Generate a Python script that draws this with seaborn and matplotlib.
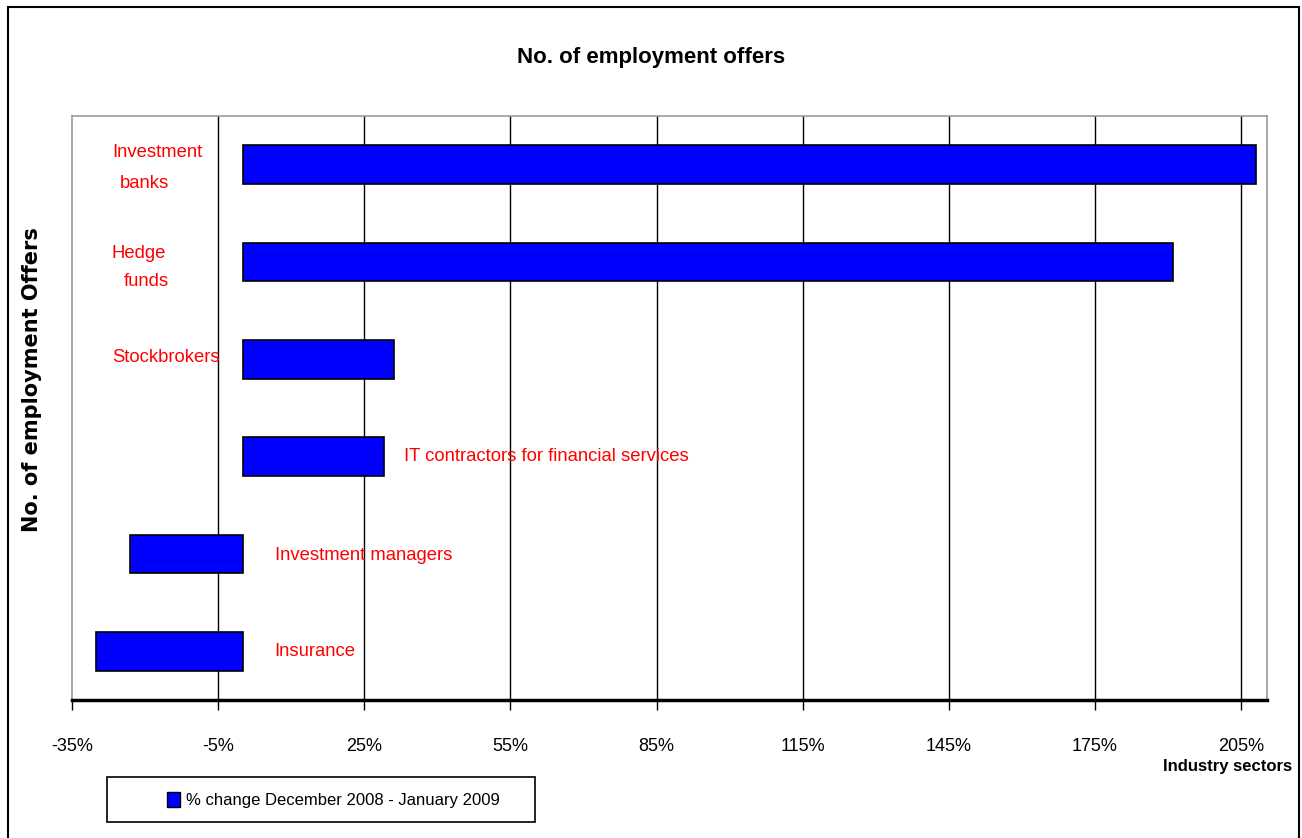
import matplotlib
matplotlib.use("Agg")
import matplotlib.pyplot as plt
import seaborn as sns
import pandas as pd
import numpy as np
from matplotlib.patches import Rectangle

sectors = ["Investment banks", "Hedge funds", "Stockbrokers",
           "IT contractors for financial services", "Investment managers", "Insurance"]
pct_change = [208.0, 191.0, 31.0, 29.0, -23.0, -30.0]
tick_values = [-35, -5, 25, 55, 85, 115, 145, 175, 205]
series_name = "% change December 2008 - January 2009"

sns.set_theme(style="white")
narrow = ["Liberation Sans Narrow", "Liberation Sans", "DejaVu Sans"]
plt.rcParams['font.family'] = narrow
plt.rcParams['text.color'] = "black"

fig = plt.figure(figsize=(13.02, 8.38), dpi=100)
ax = fig.add_axes([72/1302, 1-700/838, (1267-72)/1302, (700-116)/838])

df = pd.DataFrame({"sector": sectors, "pct": pct_change})
sns.barplot(data=df, x="pct", y="sector", orient="h", color="#0000FF",
            saturation=1, width=0.4, edgecolor="black", linewidth=1.2, ax=ax, zorder=3)

ax.set_xlim(-35, 210.3)
ax.set_ylim(5.5, -0.5)
ax.set_xticks(tick_values)
ax.set_xticklabels([f"{v}%" for v in tick_values], fontsize=13, family=narrow, color="black")
ax.set_yticks([])
ax.set_ylabel("")
ax.set_xlabel("")
for v in tick_values[1:]:
    ax.axvline(v, color="black", lw=1, zorder=1)
for s in ["left", "top", "right"]:
    ax.spines[s].set_color("#999999")
    ax.spines[s].set_linewidth(1.2)
ax.spines["bottom"].set_color("black")
ax.spines["bottom"].set_linewidth(2.5)
ax.tick_params(axis="x", direction="out", length=7, width=1, color="black",
               bottom=True, pad=20)

red = "#FF0000"
tfs = 13.3
ax.text(-26.8, -0.13, "Investment", color=red, fontsize=tfs, ha="left", va="center")
ax.text(-25.2, 0.19, "banks", color=red, fontsize=tfs, ha="left", va="center")
ax.text(-26.8, 0.91, "Hedge", color=red, fontsize=tfs, ha="left", va="center")
ax.text(-24.4, 1.2, "funds", color=red, fontsize=tfs, ha="left", va="center")
ax.text(-26.8, 1.98, "Stockbrokers", color=red, fontsize=tfs, ha="left", va="center")
ax.text(33.2, 3.0, "IT contractors for financial services", color=red, fontsize=tfs, ha="left", va="center")
ax.text(6.6, 4.02, "Investment managers", color=red, fontsize=tfs, ha="left", va="center")
ax.text(6.6, 5.0, "Insurance", color=red, fontsize=tfs, ha="left", va="center")

fig.text(651/1302, 1-58/838, "No. of employment offers", ha="center", va="center",
         fontsize=16, fontweight="bold", family=narrow, color="black")
fig.text(32/1302, 1-380/838, "No. of employment Offers", ha="center", va="center",
         rotation=90, fontsize=15, fontweight="bold", family=["DejaVu Sans"], color="black")
fig.text(1292/1302, 1-766/838, "Industry sectors", ha="right", va="center",
         fontsize=12, fontweight="bold", family=narrow, color="black")

# legend box
fig.patches.append(Rectangle((107/1302, 1-822/838), (535-107)/1302, (822-777)/838,
                             transform=fig.transFigure, fill=False, edgecolor="black",
                             linewidth=1.2))
handle = Rectangle((0, 0), 1, 1, facecolor="#0000FF", edgecolor="black")
leg = fig.legend([handle], [series_name], loc="center left",
                 bbox_to_anchor=(152/1302, 1-800/838),
                 frameon=False, handlelength=0.8, handleheight=1.0,
                 handletextpad=0.35, prop={"family": narrow, "size": 12})
for t in leg.get_texts():
    t.set_color("black")

# figure border
fig.patches.append(Rectangle((8/1302, -0.05), (1299-8)/1302, (1-7/838)+0.05,
                             transform=fig.transFigure, fill=False, edgecolor="black",
                             linewidth=1.5, clip_on=False))

fig.savefig("out.png", dpi=100)
